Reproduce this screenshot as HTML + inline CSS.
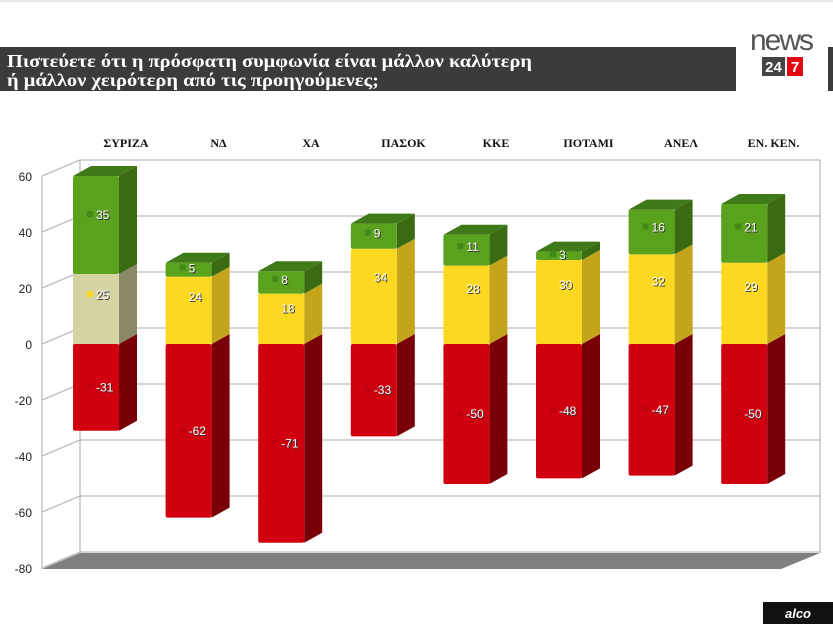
<!DOCTYPE html>
<html><head><meta charset="utf-8"><style>
body{margin:0;width:833px;height:624px;background:#fff;overflow:hidden;position:relative;font-family:"Liberation Sans",sans-serif}
</style></head><body>
<svg width="833" height="624" xmlns="http://www.w3.org/2000/svg" style="position:absolute;left:0;top:0">
<rect x="0" y="0" width="833" height="2" fill="#e8e8e8"/>
<rect x="0" y="47" width="736" height="44" fill="#3b3b3b"/>
<rect x="828" y="47" width="5" height="44" fill="#3b3b3b"/>
<text x="7" y="67" fill="#fff" font-family="Liberation Serif,serif" font-size="18" font-weight="bold" textLength="525" lengthAdjust="spacingAndGlyphs">Πιστεύετε ότι η πρόσφατη συμφωνία είναι μάλλον καλύτερη</text>
<text x="7" y="86" fill="#fff" font-family="Liberation Serif,serif" font-size="18" font-weight="bold" textLength="372" lengthAdjust="spacingAndGlyphs">ή μάλλον χειρότερη από τις προηγούμενες;</text>
<text x="781" y="50" text-anchor="middle" fill="#555" font-size="30" font-family="Liberation Sans,sans-serif" letter-spacing="-2">news</text>
<rect x="762" y="57" width="23" height="19" fill="#444"/>
<text x="773.5" y="72" text-anchor="middle" fill="#fff" font-size="15" font-weight="bold">24</text>
<rect x="787" y="57" width="16" height="19" fill="#e30613"/>
<text x="795" y="72" text-anchor="middle" fill="#fff" font-size="15" font-weight="bold">7</text>
<rect x="763" y="602" width="70" height="22" fill="#111"/>
<text x="798" y="618" text-anchor="middle" fill="#fff" font-size="13" font-weight="bold" font-style="italic">alco</text>
<g id="chart"></g>
</svg>
<script>
const ns="http://www.w3.org/2000/svg",g=document.getElementById('chart');
function el(t,a,txt){const e=document.createElementNS(ns,t);for(const k in a)e.setAttribute(k,a[k]);if(txt!==undefined)e.textContent=txt;g.appendChild(e);return e;}
const Y=v=>344-2.8*v;
for(let v=60;v>=-80;v-=20){const y=Y(v);
 el('line',{x1:80,y1:y-16,x2:820,y2:y-16,stroke:'#bdbdbd','stroke-width':1.3});
 el('line',{x1:42,y1:y,x2:80,y2:y-16,stroke:'#bdbdbd','stroke-width':1.3});
 el('text',{x:32,y:y+5,'text-anchor':'end','font-size':12,fill:'#222'},String(v));}
el('line',{x1:42,y1:176,x2:42,y2:569,stroke:'#bdbdbd','stroke-width':1.3});
el('line',{x1:80,y1:160,x2:80,y2:553,stroke:'#bdbdbd','stroke-width':1.3});
el('line',{x1:820,y1:160,x2:820,y2:553,stroke:'#bdbdbd','stroke-width':1.3});
el('polygon',{points:'42,569 781,569 820,553 80,553',fill:'#7f7f7f'});
const cats=['ΣΥΡΙΖΑ','ΝΔ','ΧΑ','ΠΑΣΟΚ','ΚΚΕ','ΠΟΤΑΜΙ','ΑΝΕΛ','ΕΝ. ΚΕΝ.'];
const red=[-31,-62,-71,-33,-50,-48,-47,-50],yel=[25,24,18,34,28,30,32,29],grn=[35,5,8,9,11,3,16,21];
cats.forEach((c,i)=>el('text',{x:126+92.5*i,y:147,'text-anchor':'middle','font-size':12,'font-weight':'bold','font-family':'Liberation Serif,serif',fill:'#111'},c));
const dx=18,dy=-10,w=46;
function seg(x,v0,v1,f,s,t,top){const y0=Y(v0),y1=Y(v1),yt=Math.min(y0,y1),yb=Math.max(y0,y1);
 el('polygon',{points:`${x+w},${yt} ${x+w+dx},${yt+dy} ${x+w+dx},${yb+dy} ${x+w},${yb}`,fill:s});
 el('rect',{x:x,y:yt,width:w,height:yb-yt,fill:f,rx:2});
 if(top)el('polygon',{points:`${x},${yt} ${x+dx},${yt+dy} ${x+w+dx},${yt+dy} ${x+w},${yt}`,fill:t});}
function lab(x,y,v,mc){el('rect',{x:x+14,y:y-4,width:6,height:6,fill:mc});
 el('text',{x:x+24,y:y+5,'font-size':12,fill:'#333'},String(v));
 el('text',{x:x+23,y:y+4,'font-size':12,fill:'#fff'},String(v));}
for(let i=0;i<8;i++){const x=96+92.6*i-23;
 seg(x,red[i],0,'#d0000f','#7a0008','#a00010',false);
 const yc=i==0?'#d6d3a3':'#fcd920',ys=i==0?'#8a8866':'#c4a41a';
 seg(x,0,yel[i],yc,ys,ys,false);
 seg(x,yel[i],yel[i]+grn[i],'#5aa21e','#3a6b12','#3f7a18',true);
 lab(x,Y(red[i]/2),red[i],'#c00010');
 lab(x,Y(yel[i]*0.7),yel[i],'#fcd920');
 lab(x,Y(yel[i]+grn[i]*0.6),grn[i],'#3f8a18');}
</script>
</body></html>
